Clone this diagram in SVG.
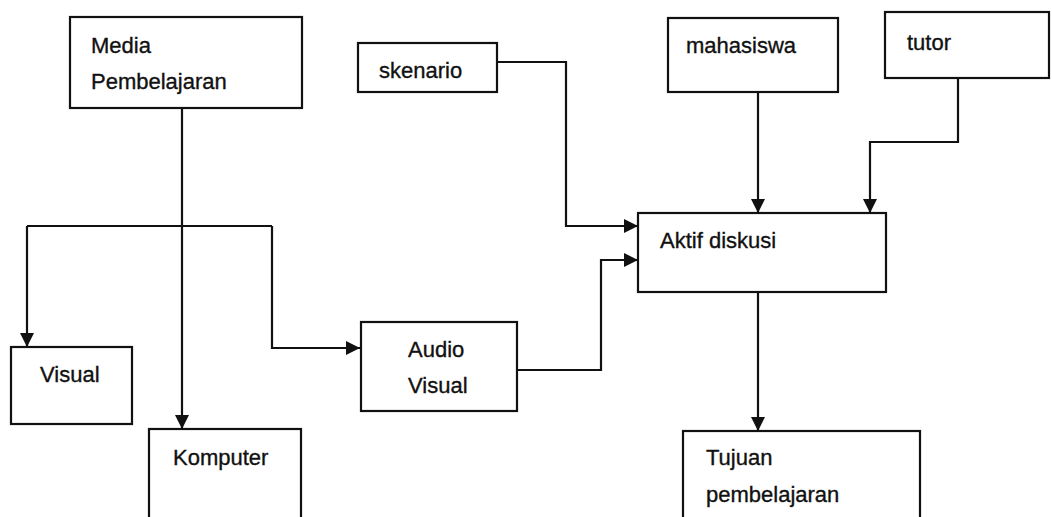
<svg xmlns="http://www.w3.org/2000/svg" width="1052" height="517" viewBox="0 0 1052 517">
<style>
.box{fill:#fff;stroke:#111;stroke-width:2.2}
.t{font-family:"Liberation Sans",Arial,sans-serif;font-size:22px;fill:#111;stroke:#111;stroke-width:0.35}
.c{fill:none;stroke:#111;stroke-width:2.2}
</style>
<defs>
<marker id="ah" viewBox="0 0 14 14" refX="14" refY="7" markerWidth="14" markerHeight="14" markerUnits="userSpaceOnUse" orient="auto">
<path d="M0,0 L14,7 L0,14 Z" fill="#111"/>
</marker>
</defs>
<rect width="1052" height="517" fill="#fff"/>
<g id="connectors">
<path class="c" d="M182,108 V226"/>
<path class="c" d="M27,226 H272"/>
<path class="c" d="M27,226 V347" marker-end="url(#ah)"/>
<path class="c" d="M182,226 V429" marker-end="url(#ah)"/>
<path class="c" d="M272,226 V348 H360" marker-end="url(#ah)"/>
<path class="c" d="M517,370 H601 V260 H638" marker-end="url(#ah)"/>
<path class="c" d="M497,62 H566 V226 H638" marker-end="url(#ah)"/>
<path class="c" d="M758,92 V213" marker-end="url(#ah)"/>
<path class="c" d="M958,78 V142 H870 V213" marker-end="url(#ah)"/>
<path class="c" d="M758,292 V431" marker-end="url(#ah)"/>
</g>
<g id="media">
<rect class="box" x="70" y="17" width="232" height="91"/>
<text class="t" x="91" y="53">Media</text>
<text class="t" x="91" y="89">Pembelajaran</text>
</g>
<g id="skenario">
<rect class="box" x="358" y="43" width="139" height="49"/>
<text class="t" x="379" y="78">skenario</text>
</g>
<g id="mahasiswa">
<rect class="box" x="668" y="18" width="170" height="74"/>
<text class="t" x="686" y="53">mahasiswa</text>
</g>
<g id="tutor">
<rect class="box" x="885" y="12" width="164" height="66"/>
<text class="t" x="907" y="50">tutor</text>
</g>
<g id="aktif">
<rect class="box" x="638" y="213" width="248" height="79"/>
<text class="t" x="660" y="248">Aktif diskusi</text>
</g>
<g id="visual">
<rect class="box" x="11" y="347" width="121" height="77"/>
<text class="t" x="40" y="382">Visual</text>
</g>
<g id="komputer">
<rect class="box" x="149" y="429" width="152" height="100"/>
<text class="t" x="173" y="465">Komputer</text>
</g>
<g id="audiovisual">
<rect class="box" x="361" y="322" width="156" height="89"/>
<text class="t" x="408" y="357">Audio</text>
<text class="t" x="408" y="393">Visual</text>
</g>
<g id="tujuan">
<rect class="box" x="683" y="431" width="237" height="100"/>
<text class="t" x="706" y="465">Tujuan</text>
<text class="t" x="706" y="502">pembelajaran</text>
</g>
</svg>
